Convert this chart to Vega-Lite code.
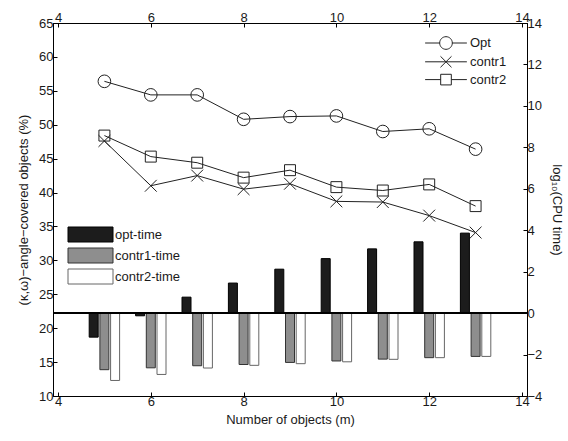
{
  "$schema": "https://vega.github.io/schema/vega-lite/v6.json",
  "width": 474,
  "height": 373,
  "autosize": {"type": "none"},
  "padding": {"left": 53, "top": 23, "right": 41, "bottom": 45},
  "config": {
    "font": "Liberation Sans",
    "view": {"stroke": "#000", "strokeWidth": 1},
    "axis": {
      "grid": false,
      "domainColor": "#000",
      "tickColor": "#000",
      "labelColor": "#1a1a1a",
      "titleColor": "#1a1a1a",
      "labelFontSize": 13,
      "titleFontSize": 13,
      "titleFontWeight": "normal",
      "labelFont": "Liberation Sans",
      "titleFont": "Liberation Sans",
      "tickSize": -4,
      "labelPadding": 4
    },
    "legend": {"labelFont": "Liberation Sans", "labelFontSize": 13, "labelColor": "#1a1a1a"}
  },
  "datasets": {
    "pct": [
      {"m": 5, "series": "Opt", "pct": 56.4},
      {"m": 6, "series": "Opt", "pct": 54.4},
      {"m": 7, "series": "Opt", "pct": 54.4},
      {"m": 8, "series": "Opt", "pct": 50.8},
      {"m": 9, "series": "Opt", "pct": 51.2},
      {"m": 10, "series": "Opt", "pct": 51.3},
      {"m": 11, "series": "Opt", "pct": 49.0},
      {"m": 12, "series": "Opt", "pct": 49.4},
      {"m": 13, "series": "Opt", "pct": 46.4},
      {"m": 5, "series": "contr1", "pct": 47.6},
      {"m": 6, "series": "contr1", "pct": 41.0},
      {"m": 7, "series": "contr1", "pct": 42.5},
      {"m": 8, "series": "contr1", "pct": 40.5},
      {"m": 9, "series": "contr1", "pct": 41.3},
      {"m": 10, "series": "contr1", "pct": 38.7},
      {"m": 11, "series": "contr1", "pct": 38.6},
      {"m": 12, "series": "contr1", "pct": 36.6},
      {"m": 13, "series": "contr1", "pct": 34.1},
      {"m": 5, "series": "contr2", "pct": 48.4},
      {"m": 6, "series": "contr2", "pct": 45.3},
      {"m": 7, "series": "contr2", "pct": 44.4},
      {"m": 8, "series": "contr2", "pct": 42.2},
      {"m": 9, "series": "contr2", "pct": 43.3},
      {"m": 10, "series": "contr2", "pct": 40.8},
      {"m": 11, "series": "contr2", "pct": 40.3},
      {"m": 12, "series": "contr2", "pct": 41.2},
      {"m": 13, "series": "contr2", "pct": 38.0}
    ],
    "cpu": [
      {"m": 5, "series": "opt-time", "t": -1.16},
      {"m": 6, "series": "opt-time", "t": -0.13},
      {"m": 7, "series": "opt-time", "t": 0.77},
      {"m": 8, "series": "opt-time", "t": 1.45},
      {"m": 9, "series": "opt-time", "t": 2.12},
      {"m": 10, "series": "opt-time", "t": 2.63},
      {"m": 11, "series": "opt-time", "t": 3.1},
      {"m": 12, "series": "opt-time", "t": 3.44},
      {"m": 13, "series": "opt-time", "t": 3.86},
      {"m": 5, "series": "contr1-time", "t": -2.73},
      {"m": 6, "series": "contr1-time", "t": -2.64},
      {"m": 7, "series": "contr1-time", "t": -2.54},
      {"m": 8, "series": "contr1-time", "t": -2.48},
      {"m": 9, "series": "contr1-time", "t": -2.38},
      {"m": 10, "series": "contr1-time", "t": -2.31},
      {"m": 11, "series": "contr1-time", "t": -2.22},
      {"m": 12, "series": "contr1-time", "t": -2.15},
      {"m": 13, "series": "contr1-time", "t": -2.09},
      {"m": 5, "series": "contr2-time", "t": -3.25},
      {"m": 6, "series": "contr2-time", "t": -2.96},
      {"m": 7, "series": "contr2-time", "t": -2.65},
      {"m": 8, "series": "contr2-time", "t": -2.52},
      {"m": 9, "series": "contr2-time", "t": -2.44},
      {"m": 10, "series": "contr2-time", "t": -2.35},
      {"m": 11, "series": "contr2-time", "t": -2.23},
      {"m": 12, "series": "contr2-time", "t": -2.15},
      {"m": 13, "series": "contr2-time", "t": -2.09}
    ]
  },
  "layer": [
    {
      "data": {"name": "pct"},
      "encoding": {
        "x": {
          "field": "m", "type": "quantitative",
          "scale": {"domain": [4, 14], "nice": false, "zero": false},
          "axis": {"orient": "bottom", "values": [4, 6, 8, 10, 12, 14], "title": "Number of objects (m)", "labelPadding": 3, "titlePadding": 5}
        },
        "y": {
          "field": "pct", "type": "quantitative",
          "scale": {"domain": [10, 65], "nice": false, "zero": false},
          "axis": {"orient": "left", "values": [10, 15, 20, 25, 30, 35, 40, 45, 50, 55, 60, 65], "title": "(κ,ω)−angle−covered objects (%)", "titlePadding": 8}
        }
      },
      "layer": [
        {
          "mark": {"type": "line", "color": "#222", "strokeWidth": 1},
          "encoding": {"detail": {"field": "series"}}
        },
        {
          "mark": {"type": "point", "filled": false, "color": "#222", "strokeWidth": 1, "opacity": 1},
          "encoding": {
            "shape": {"field": "series", "scale": {"domain": ["Opt", "contr1", "contr2"], "range": ["circle", "M-1,-1L1,1M-1,1L1,-1", "square"]}, "legend": null},
            "size": {"field": "series", "scale": {"domain": ["Opt", "contr1", "contr2"], "range": [160, 120, 112]}, "legend": null}
          }
        },
        {
          "mark": {"type": "point", "filled": false, "opacity": 0, "color": "#222"},
          "encoding": {
            "shape": {
              "field": "series",
              "scale": {"domain": ["Opt", "contr1", "contr2"], "range": [
                "M-3.3,0L-1,0M1,0L3.3,0M1,0A1,1,0,1,1,-1,0A1,1,0,1,1,1,0",
                "M-3.3,0L3.3,0M-0.87,-0.87L0.87,0.87M-0.87,0.87L0.87,-0.87",
                "M-3.3,0L-0.84,0M0.84,0L3.3,0M-0.84,-0.84H0.84V0.84H-0.84Z"
              ]},
              "legend": {
                "orient": "none", "legendX": 386, "legendY": 13, "title": null,
                "symbolSize": 160, "symbolStrokeColor": "#222", "symbolStrokeWidth": 1,
                "symbolFillColor": "transparent", "symbolOpacity": 1,
                "labelOffset": 17, "rowPadding": 1.8
              }
            }
          }
        }
      ],
      "resolve": {"scale": {"shape": "independent"}}
    },
    {
      "data": {"name": "cpu"},
      "layer": [
        {
          "transform": [{"filter": "datum.series === 'opt-time'"}],
          "mark": {"type": "bar", "size": 9, "xOffset": -10.7, "strokeWidth": 1},
          "encoding": {
            "x": {"field": "m", "type": "quantitative", "scale": {"domain": [4, 14], "nice": false, "zero": false}, "axis": {"orient": "top", "values": [4, 6, 8, 10, 12, 14], "title": null, "labelPadding": 3}},
            "y": {"field": "t", "type": "quantitative", "scale": {"domain": [-4, 14], "nice": false, "zero": false}, "axis": {"orient": "right", "values": [-4, -2, 0, 2, 4, 6, 8, 10, 12, 14], "title": "log₁₀(CPU time)", "titlePadding": 8}},
            "y2": {"datum": 0},
            "fill": {"field": "series", "scale": {"domain": ["opt-time", "contr1-time", "contr2-time"], "range": ["#1c1c1c", "#8e8e8e", "#ffffff"]},
              "legend": {"orient": "none", "legendX": 31, "legendY": 205, "title": null, "symbolType": "M-4.5,-1.5H4.5V1.5H-4.5Z", "symbolSize": 100, "labelOffset": 18, "rowPadding": 2, "symbolStrokeWidth": 1}},
            "stroke": {"field": "series", "scale": {"domain": ["opt-time", "contr1-time", "contr2-time"], "range": ["#000000", "#333333", "#666666"]}}
          }
        },
        {
          "transform": [{"filter": "datum.series === 'contr1-time'"}],
          "mark": {"type": "bar", "size": 9, "xOffset": 0, "strokeWidth": 1},
          "encoding": {
            "x": {"field": "m", "type": "quantitative"},
            "y": {"field": "t", "type": "quantitative"},
            "y2": {"datum": 0},
            "fill": {"field": "series"},
            "stroke": {"field": "series"}
          }
        },
        {
          "transform": [{"filter": "datum.series === 'contr2-time'"}],
          "mark": {"type": "bar", "size": 9, "xOffset": 10.7, "strokeWidth": 1},
          "encoding": {
            "x": {"field": "m", "type": "quantitative"},
            "y": {"field": "t", "type": "quantitative"},
            "y2": {"datum": 0},
            "fill": {"field": "series"},
            "stroke": {"field": "series"}
          }
        },
        {
          "mark": {"type": "rule", "color": "#000", "strokeWidth": 1},
          "encoding": {"y": {"datum": 0}}
        }
      ]
    }
  ],
  "resolve": {"scale": {"y": "independent"}, "axis": {"x": "independent", "y": "independent"}}
}
